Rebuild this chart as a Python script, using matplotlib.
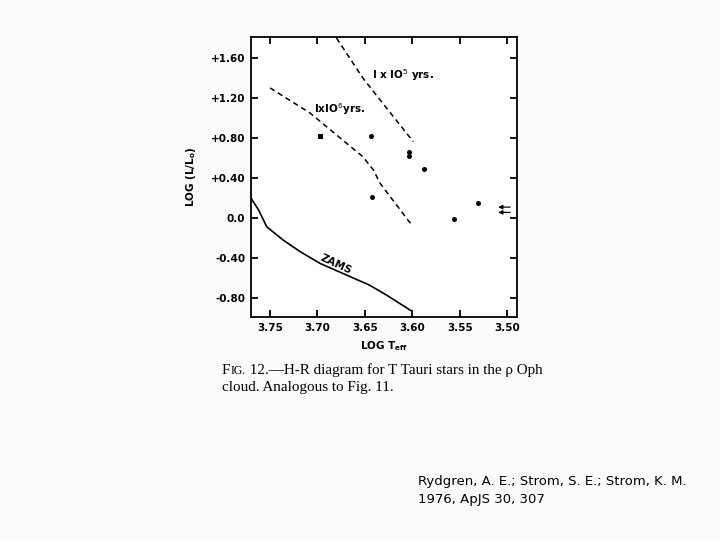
import matplotlib
matplotlib.use("Agg")
import matplotlib.pyplot as plt

# Data
star_logT = [3.644, 3.603, 3.603, 3.588, 3.643, 3.556, 3.531]
star_logL = [0.822, 0.660, 0.620, 0.490, 0.205, -0.013, 0.147]
square_logT = [3.697]
square_logL = [0.822]

iso5_logT = [3.680, 3.652, 3.627, 3.599]
iso5_logL = [1.80, 1.397, 1.097, 0.762]

iso6_logT = [3.750, 3.708, 3.680, 3.652, 3.641, 3.634, 3.600]
iso6_logL = [1.30, 1.05, 0.83, 0.61, 0.478, 0.345, -0.08]

zams_logT = [3.770, 3.762, 3.7535, 3.736, 3.718, 3.697, 3.673, 3.645, 3.627, 3.602]
zams_logL = [0.195, 0.077, -0.09, -0.224, -0.341, -0.458, -0.558, -0.675, -0.775, -0.926]

arrow_logL = [0.107, 0.054]
arrow_head_logT = 3.5095
arrow_tail_logT = 3.4968

xticks = [3.75, 3.70, 3.65, 3.60, 3.55, 3.50]
xticklabels = ["3.75", "3.70", "3.65", "3.60", "3.55", "3.50"]
yticks = [1.60, 1.20, 0.80, 0.40, 0.0, -0.40, -0.80]
yticklabels = ["+1.60", "+1.20", "+0.80", "+0.40", "0.0", "-0.40", "-0.80"]

caption1_rest = " 12.\u2014H-R diagram for T Tauri stars in the \u03c1 Oph"
caption2 = "cloud. Analogous to Fig. 11."
credit1 = "Rydgren, A. E.; Strom, S. E.; Strom, K. M."
credit2 = "1976, ApJS 30, 307"

fig = plt.figure(figsize=(7.2, 5.4), dpi=100)
fig.patch.set_facecolor("#fbfdfb")
ax = fig.add_axes([0.3482, 0.413, 0.3694, 0.5185])
ax.set_facecolor("white")

ax.plot(iso5_logT, iso5_logL, color="black", lw=1.1, ls=(0, (3.5, 2.5)))
ax.plot(iso6_logT, iso6_logL, color="black", lw=1.1, ls=(0, (3.5, 2.5)))
ax.plot(zams_logT, zams_logL, color="black", lw=1.2)
ax.plot(star_logT, star_logL, "o", color="black", ms=3.6, mew=0)
ax.plot(square_logT, square_logL, "s", color="black", ms=3.6, mew=0)
for yl in arrow_logL:
    ax.annotate("", xy=(arrow_head_logT, yl), xytext=(arrow_tail_logT, yl),
                arrowprops=dict(arrowstyle="-|>", color="black", lw=0.9,
                                mutation_scale=6, shrinkA=0, shrinkB=0))

ax.text(3.6427, 1.43, r"I x IO$^5$ yrs.", fontsize=7.5, fontweight="bold",
        ha="left", va="center")
ax.text(3.704, 1.087, r"IxIO$^6$yrs.", fontsize=7.5, fontweight="bold",
        ha="left", va="center")
ax.text(3.681, -0.470, "ZAMS", fontsize=7.5, fontweight="bold",
        ha="center", va="center", rotation=-25)

ax.set_xlim(3.7704, 3.490)
ax.set_ylim(-0.993, 1.81)
ax.set_xticks(xticks)
ax.set_xticklabels(xticklabels)
ax.set_yticks(yticks)
ax.set_yticklabels(yticklabels)
ax.tick_params(direction="in", top=True, right=True, length=5, width=1.3,
               labelsize=7.5, pad=4)
for lab in ax.get_xticklabels() + ax.get_yticklabels():
    lab.set_fontweight("bold")
for sp in ax.spines.values():
    sp.set_linewidth(1.3)

ax.set_xlabel(r"LOG T$_{\mathregular{eff}}$", fontsize=7.5, fontweight="bold", labelpad=5)
ax.set_ylabel(r"LOG (L/L$_{\mathregular{o}}$)", fontsize=7.5, fontweight="bold", labelpad=9)

# Caption with small caps "FIG."
serif = "Liberation Serif"
cap_size = 10.9
x0 = 222 / 720
y1 = 1 - 374 / 540
y2 = 1 - 391 / 540
fig.canvas.draw()
renderer = fig.canvas.get_renderer()
t_f = fig.text(x0, y1, "F", fontsize=cap_size, family=serif, va="baseline", ha="left")
bb = t_f.get_window_extent(renderer)
x1 = x0 + bb.width / 720
t_ig = fig.text(x1, y1, "IG.", fontsize=cap_size * 0.78, family=serif, va="baseline", ha="left")
bb2 = t_ig.get_window_extent(renderer)
x2 = x1 + bb2.width / 720
fig.text(x2, y1, caption1_rest, fontsize=cap_size, family=serif, va="baseline", ha="left")
fig.text(x0, y2, caption2, fontsize=cap_size, family=serif, va="baseline", ha="left")

fig.text(418 / 720, 1 - 481 / 540, credit1, fontsize=9.5, va="center", ha="left")
fig.text(418 / 720, 1 - 500 / 540, credit2, fontsize=9.5, va="center", ha="left")

fig.savefig("out.png", dpi=100, facecolor=fig.get_facecolor())
